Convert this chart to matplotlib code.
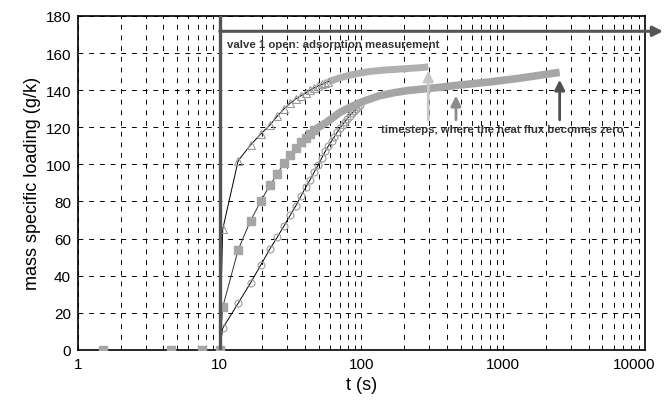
import numpy as np
import matplotlib
matplotlib.use("Agg")
import matplotlib.pyplot as plt
import matplotlib.transforms as mtransforms

plt.rcParams['font.family'] = ['Liberation Sans', 'DejaVu Sans']

# ---------------- DATOS ----------------
# triangulos (curva superior)
t_tri = [10, 10.5, 13.5, 16.5, 19.5, 22.5, 25.5, 28.5, 31.5, 34.5, 37.5,
         40.5, 43.5, 46.5, 49.5, 52.5, 55.5, 58.5]
y_tri = [0, 65, 102, 110.4, 116.4, 121, 126, 130, 133, 135.4, 137,
         138.6, 140, 141.3, 142.3, 143.1, 143.9, 144.6]
t_tri_band = [58.5, 66.6, 76, 87.6, 100, 114, 143, 175, 208, 250, 296]
y_tri_band = [144.6, 146, 147.3, 148.5, 149.3, 150, 150.8, 151.2, 151.6, 152, 152.5]

# cuadrados (curva intermedia)
t_sq = [1.5, 4.5, 7.5, 10, 10.5, 13.5, 16.5, 19.5, 22.5, 25.5, 28.5, 31.5,
        34.5, 37.5, 40.5, 43.5, 46.5]
y_sq = [0, 0, 0, 0, 23, 54, 69.7, 80.1, 88.7, 94.8, 101, 105,
        108.8, 111.8, 114.3, 116.5, 118.5]
t_sq_band = [46.5, 56.8, 70.5, 87.6, 100, 114.6, 134, 170, 208, 280, 357,
             450, 582, 800, 1000, 1300, 1600, 2000, 2500]
y_sq_band = [118.5, 122.7, 128, 131.6, 133.6, 135.2, 137, 138.6, 139.7, 140.7, 141.5,
             142.4, 143.3, 144.4, 145.3, 146.4, 147.4, 148.5, 149.6]

# circulos (curva inferior)
t_ci = [10, 10.5, 13.5, 16.5, 19.5, 22.5, 25.5, 28.5, 31.5, 34.5, 37.5, 40.5,
        43.5, 46.5, 49.5, 52.5, 55.5, 58.5, 61.5, 64.5, 67.5, 70.5, 73.5,
        76.5, 79.5, 82.5, 85.5, 88.5, 91.5, 94.5, 97.5]
y_ci = [0, 11.7, 25.2, 36.1, 45.8, 54.2, 60.8, 67, 72.7, 77.8, 83, 87.7,
        91.8, 96, 99.6, 103.5, 107, 110, 112.5, 115, 117.5, 119.5, 121.3,
        123, 124.7, 126.2, 127.5, 128.8, 130, 131, 132]

# flechas "timesteps"
t_flechas = [296, 464, 2500]
y_puntas = [150.5, 137, 145.6]
c_flechas = ['#c8c8c8', '#8c8c8c', '#505050']

# ---------------- GRAFICAR ----------------
fig = plt.figure(figsize=(6.66, 4.02), dpi=100)
ax = fig.add_axes([0.117, 0.127, 0.8515, 0.831])

ax.set_xscale('log')
ax.set_xlim(1, 10000)
ax.set_ylim(0, 180)
ax.set_yticks(np.arange(0, 181, 20))
ax.set_xticks([1, 10, 100, 1000, 10000])
ax.set_xticklabels(['1', '10', '100', '1000', '10000'])
ax.tick_params(which='both', length=0, labelsize=11, pad=5)
ax.grid(True, which='both', axis='x', color='k', lw=0.7, ls=(0, (5, 6)))
ax.grid(True, which='major', axis='y', color='k', lw=0.7, ls=(0, (5, 6)))
for s in ax.spines.values():
    s.set_linewidth(1.2)

# ultima etiqueta un poco a la izquierda para que no se corte
lbl = ax.get_xticklabels()[-1]
lbl.set_transform(lbl.get_transform() +
                  mtransforms.ScaledTranslation(-8 / 72, 0, fig.dpi_scale_trans))

# curvas
ax.plot(t_ci, y_ci, '-', color='k', lw=0.7, marker='o', ms=5,
        mfc='none', mec='#9a9a9a', mew=0.8, zorder=3)
ax.plot(t_tri_band, y_tri_band, '-', color='#b0b0b0', lw=5, zorder=3,
        solid_capstyle='butt')
ax.plot(t_tri, y_tri, '-', color='k', lw=0.7, marker='^', ms=5.5,
        mfc='none', mec='#9a9a9a', mew=0.8, zorder=4)
ax.plot(t_sq_band, y_sq_band, '-', color='#a6a6a6', lw=5.5, zorder=5,
        solid_capstyle='butt')
ax.plot(t_sq, y_sq, '-', color='#333333', lw=0.7, marker='s', ms=5.5,
        mfc='#a6a6a6', mec='#a6a6a6', zorder=5)

# linea de apertura de valvula
ax.axvline(10, color='#555555', lw=2.4, zorder=6)
ax.annotate('', xy=(13400, 171.7), xytext=(10, 171.7), annotation_clip=False,
            arrowprops=dict(arrowstyle='-|>,head_length=0.6,head_width=0.3',
                            color='#555555', lw=2.2, shrinkA=0, shrinkB=0))
ax.text(11.3, 165, 'valve 1 open: adsorption measurement', fontsize=8.2,
        fontweight='bold', color='#333333', va='center', ha='left', zorder=7)

for t, y, c in zip(t_flechas, y_puntas, c_flechas):
    ax.annotate('', xy=(t, y), xytext=(t, 124),
                arrowprops=dict(arrowstyle='-|>,head_length=0.6,head_width=0.3',
                                color=c, lw=2, shrinkA=0, shrinkB=0), zorder=7)
ax.text(137, 119, 'timesteps, where the heat flux becomes zero', fontsize=8.2,
        fontweight='bold', color='#333333', va='center', ha='left', zorder=7)

ax.set_xlabel('t (s)', fontsize=13, labelpad=4)
ax.set_ylabel('mass specific loading (g/k)', fontsize=13, labelpad=3)

fig.savefig('out.png', dpi=100)
